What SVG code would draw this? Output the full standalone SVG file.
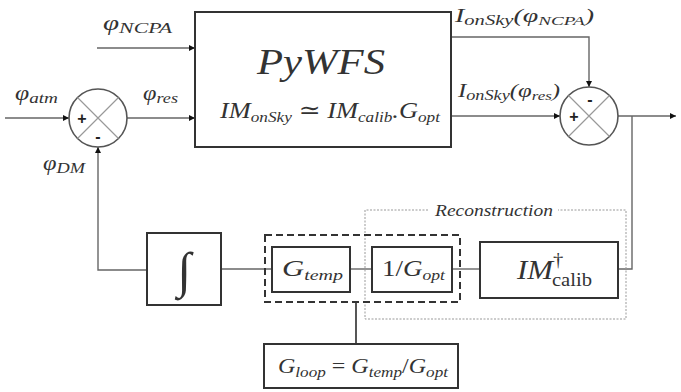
<svg xmlns="http://www.w3.org/2000/svg" width="681" height="392" viewBox="0 0 681 392">
<defs>
<style>
.box{fill:#fff;stroke:#333;stroke-width:2}
.ln{fill:none;stroke:#666;stroke-width:1.4}
.t{font-family:"Liberation Serif","DejaVu Serif",serif;font-style:italic;fill:#333}
.r{font-family:"Liberation Serif","DejaVu Serif",serif;fill:#333}
.s{font-family:"Liberation Sans","DejaVu Sans",sans-serif;fill:#222;font-weight:bold}
</style>
<marker id="ah" viewBox="0 0 10 10" refX="10" refY="5" markerWidth="6" markerHeight="6" markerUnits="userSpaceOnUse" orient="auto">
<path d="M0,0 L10,5 L0,10 z" fill="#111"/>
</marker>
</defs>
<rect width="681" height="392" fill="#fff"/>

<g id="connectors">
<path class="ln" d="M5,118 L69,118" marker-end="url(#ah)"/>
<path class="ln" d="M97,48 L195,48" marker-end="url(#ah)"/>
<path class="ln" d="M127,118 L195,118" marker-end="url(#ah)"/>
<path class="ln" d="M451,37 L589,37 L589,87" marker-end="url(#ah)"/>
<path class="ln" d="M451,116 L560,116" marker-end="url(#ah)"/>
<path class="ln" d="M618,116 L676,116" marker-end="url(#ah)"/>
<path class="ln" d="M632,116 L632,269 L618,269"/>
<path class="ln" d="M147,270 L98,270 L98,147" marker-end="url(#ah)"/>
<path class="ln" d="M221,269 L272,269"/>
<path class="ln" d="M350,269 L372,269"/>
<path class="ln" d="M452,269 L480,269"/>
<path fill="none" stroke="#444" stroke-width="1.8" d="M356,302 L356,344"/>
</g>

<g id="sum1">
<circle cx="98" cy="118" r="29" fill="#fff" stroke="#555" stroke-width="1.6"/>
<path d="M77.5,97.5 L118.5,138.5 M118.5,97.5 L77.5,138.5" stroke="#999" stroke-width="1.2"/>
<text class="s" x="82" y="124" font-size="16" text-anchor="middle">+</text>
<text class="s" x="98" y="142" font-size="16" text-anchor="middle">-</text>
</g>

<g id="sum2">
<circle cx="589" cy="116" r="29" fill="#fff" stroke="#555" stroke-width="1.6"/>
<path d="M568.5,95.5 L609.5,136.5 M609.5,95.5 L568.5,136.5" stroke="#999" stroke-width="1.2"/>
<text class="s" x="574" y="122" font-size="16" text-anchor="middle">+</text>
<text class="s" x="590" y="105" font-size="16" text-anchor="middle">-</text>
</g>

<g id="pywfs">
<rect class="box" x="195" y="12" width="256" height="135"/>
<text class="t" x="257" y="74" font-size="35" textLength="128" lengthAdjust="spacingAndGlyphs">PyWFS</text>
<text class="t" x="220" y="118" font-size="23" textLength="220" lengthAdjust="spacingAndGlyphs">IM<tspan font-size="15" dy="4">onSky</tspan><tspan dy="-4"> ≃ IM</tspan><tspan font-size="15" dy="4">calib</tspan><tspan dy="-4">.G</tspan><tspan font-size="15" dy="4">opt</tspan></text>
</g>

<g id="labels">
<text class="t" x="103" y="30" font-size="20" textLength="69" lengthAdjust="spacingAndGlyphs">φ<tspan font-size="15" dy="3">NCPA</tspan></text>
<text class="t" x="15" y="100" font-size="20" textLength="43" lengthAdjust="spacingAndGlyphs">φ<tspan font-size="15" dy="3">atm</tspan></text>
<text class="t" x="143" y="100" font-size="20" textLength="35" lengthAdjust="spacingAndGlyphs">φ<tspan font-size="15" dy="3">res</tspan></text>
<text class="t" x="43" y="170" font-size="20" textLength="42" lengthAdjust="spacingAndGlyphs">φ<tspan font-size="15" dy="3">DM</tspan></text>
<text class="t" x="455" y="22" font-size="19" textLength="139" lengthAdjust="spacingAndGlyphs">I<tspan font-size="14" dy="3">onSky</tspan><tspan dy="-3">(φ</tspan><tspan font-size="13" dy="3">NCPA</tspan><tspan dy="-3">)</tspan></text>
<text class="t" x="458" y="97" font-size="19" textLength="102" lengthAdjust="spacingAndGlyphs">I<tspan font-size="14" dy="3">onSky</tspan><tspan dy="-3">(φ</tspan><tspan font-size="13" dy="3">res</tspan><tspan dy="-3">)</tspan></text>
</g>

<g id="reconstruction">
<path fill="none" stroke="#999" stroke-width="1" stroke-dasharray="2,1.5" d="M428,210 L365,210 L365,319 L626,319 L626,210 L558,210"/>
<text class="t" x="435" y="216" font-size="17" fill="#555" textLength="118" lengthAdjust="spacingAndGlyphs">Reconstruction</text>
</g>

<g id="integrator">
<rect class="box" x="147" y="233" width="74" height="72"/>
<text class="r" x="184" y="287" font-size="50" text-anchor="middle" font-style="italic">∫</text>
</g>

<g id="gain-group">
<rect x="265" y="235" width="195" height="67" fill="none" stroke="#333" stroke-width="2" stroke-dasharray="7,4"/>
</g>

<g id="gtemp">
<rect class="box" x="272" y="247" width="78" height="45"/>
<text class="t" x="282" y="276" font-size="23" textLength="61" lengthAdjust="spacingAndGlyphs">G<tspan font-size="15" dy="4">temp</tspan></text>
</g>

<g id="gopt">
<rect class="box" x="372" y="247" width="80" height="45"/>
<text class="t" x="382" y="276" font-size="23" textLength="63" lengthAdjust="spacingAndGlyphs"><tspan font-style="normal">1/</tspan>G<tspan font-size="15" dy="4">opt</tspan></text>
</g>

<g id="imcalib">
<rect class="box" x="480" y="242" width="138" height="56"/>
<text class="t" x="517" y="279" font-size="27" textLength="75" lengthAdjust="spacingAndGlyphs">IM<tspan font-size="18" dy="-13" font-style="normal">†</tspan><tspan font-size="18" dy="20" dx="-10" font-style="normal">calib</tspan></text>
</g>

<g id="gloop">
<rect class="box" x="264" y="344" width="194" height="44"/>
<text class="t" x="278" y="373" font-size="21" textLength="170" lengthAdjust="spacingAndGlyphs">G<tspan font-size="15" dy="4">loop</tspan><tspan dy="-4" font-style="normal"> = </tspan>G<tspan font-size="15" dy="4">temp</tspan><tspan dy="-4" font-style="normal">/</tspan>G<tspan font-size="15" dy="4">opt</tspan></text>
</g>
</svg>
